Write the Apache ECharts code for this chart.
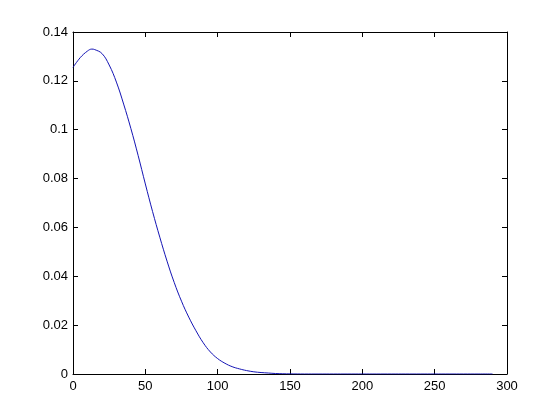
<!DOCTYPE html>
<html>
<head>
<meta charset="utf-8">
<script src="https://cdn.jsdelivr.net/npm/echarts@6/dist/echarts.min.js"></script>
<style>html,body{margin:0;padding:0;background:#fff;}#c{width:560px;height:420px;}</style>
</head>
<body>
<div id="c"></div>
<script>
var xValues = [0,5,10,13,15,20,25,30,35,40,45,50,55,60,65,70,75,80,85,90,95,100,105,110,115,120,125,130,135,140,145,150,160,170,180,190,200,210,220,230,240,250,260,270,280,290];
var yValues = [0.1255,0.1295,0.1322,0.1330,0.1328,0.1312,0.1265,0.1195,0.1105,0.1005,0.0895,0.0778,0.0665,0.0560,0.0462,0.0374,0.0298,0.0233,0.0177,0.0128,0.0090,0.0063,0.0044,0.0030,0.0021,0.0014,0.0009,0.0006,0.0004,0.0002,0.0001,0.00005,0,0,0,0,0,0,0,0,0,0,0,0,0,0];
var xTicks = [0,50,100,150,200,250,300];
var yTicks = [0,0.02,0.04,0.06,0.08,0.1,0.12,0.14];

var pts = xValues.map(function(x,i){return [x,yValues[i]];});
var font = {fontFamily:'Liberation Sans, Arial, sans-serif', fontSize:13, color:'#000'};
function axisBase(extra){
  return Object.assign({
    type:'value',
    axisLine:{show:true,onZero:false,lineStyle:{color:'#000',width:1}},
    axisTick:{show:true,inside:true,length:5,lineStyle:{color:'#000'}},
    splitLine:{show:false}
  }, extra);
}
var chart = echarts.init(document.getElementById('c'));
chart.setOption({
  backgroundColor:'#fff',
  animation:false,
  grid:{left:73,right:53,top:32,bottom:46,containLabel:false},
  xAxis:[
    axisBase({min:0,max:300,interval:50,position:'bottom',
      axisLabel:Object.assign({margin:6,formatter:function(v){return xTicks.indexOf(v)>=0?String(v):'';}},font)}),
    axisBase({min:0,max:300,interval:50,position:'top',axisLabel:{show:false}})
  ],
  yAxis:[
    axisBase({min:0,max:0.14,interval:0.02,position:'left',
      axisLabel:Object.assign({margin:5,formatter:function(v){
        var r=Math.round(v*100)/100; return String(r);}},font)}),
    axisBase({min:0,max:0.14,interval:0.02,position:'right',axisLabel:{show:false}})
  ],
  series:[{
    type:'line',
    data:pts,
    smooth:0.4,
    showSymbol:false,
    lineStyle:{color:'#1414b4',width:1},
    xAxisIndex:0,yAxisIndex:0
  }]
});
</script>
</body>
</html>
